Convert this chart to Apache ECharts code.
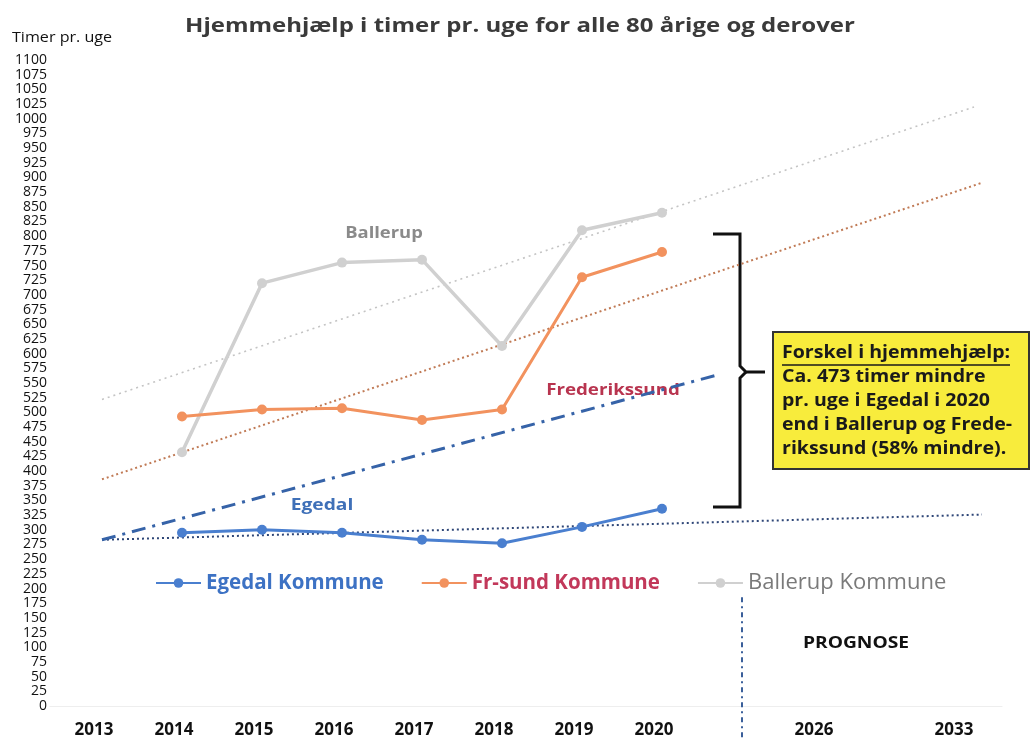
<!DOCTYPE html>
<html>
<head>
<meta charset="utf-8">
<script src="https://cdn.jsdelivr.net/npm/echarts@6/dist/echarts.min.js"></script>
<style>
  html, body { margin: 0; padding: 0; background: #fff; }
  #chart { width: 1032px; height: 741px; }
</style>
</head>
<body>
<div id="chart"></div>
<script>
// aar og maalte timer pr. uge
var years = [2014, 2015, 2016, 2017, 2018, 2019, 2020];
var egedal = [295, 300, 295, 283, 277, 305, 336];
var frsund = [493, 505, 507, 487, 505, 730, 773];
var ballerup = [432, 720, 755, 760, 613, 810, 840];

// tendenslinjer (start- og slutpunkt aflæst)
var ballerupTrend = [[2013, 522], [2023.9, 1020]];
var frsundTrend = [[2013, 386], [2024, 891]];
var egedalTrend = [[2013, 283], [2024, 326]];
var egedalArrow = [[2013, 283], [2020.7, 564]];
var prognoseLine = [[2021, 185], [2021, -60]];

// x-akse: aarstal og hvor de sidder paa aksen
var xTickLabels = ['2013', '2014', '2015', '2016', '2017', '2018', '2019', '2020', '2026', '2033'];
var xTickValues = [2013, 2014, 2015, 2016, 2017, 2018, 2019, 2020, 2022, 2023.75];

function pairs(vals) {
    return years.map(function (y, i) { return [y, vals[i]]; });
}

var chart = echarts.init(document.getElementById('chart'));
var font = '"Open Sans", "Noto Sans", sans-serif';

var option = {
    backgroundColor: '#fff',
    animation: false,
    textStyle: { fontFamily: font },
    grid: { left: 50, right: 30, top: 60, bottom: 35, containLabel: false },
    legend: {
        left: 150,
        top: 567,
        itemWidth: 45,
        itemHeight: 12,
        itemGap: 37,
        data: [
            { name: 'Egedal Kommune', textStyle: { color: '#3d72c4', fontWeight: 'bold', fontSize: 20.5 } },
            { name: 'Fr-sund Kommune', textStyle: { color: '#c2385a', fontWeight: 'bold', fontSize: 20.5 } },
            { name: 'Ballerup Kommune', textStyle: { color: '#7a7a7a', fontWeight: 'normal', fontSize: 22 } }
        ],
        textStyle: { fontSize: 20, fontFamily: font }
    },
    xAxis: {
        type: 'value',
        min: 2012.35,
        max: 2024.25,
        axisLine: { show: true, lineStyle: { color: '#eeeeee', width: 1 } },
        axisTick: { show: false },
        splitLine: { show: false },
        axisLabel: {
            customValues: xTickValues,
            margin: 16,
            padding: [0, 16, 0, 0],
            fontSize: 17,
            fontWeight: 'bold',
            color: '#111',
            formatter: function (v) {
                var i = xTickValues.indexOf(v);
                return i >= 0 ? xTickLabels[i] : '';
            }
        }
    },
    yAxis: {
        type: 'value',
        min: 0,
        max: 1100,
        interval: 25,
        axisLine: { show: false },
        axisTick: { show: false },
        splitLine: { show: false },
        axisLabel: {
            fontSize: 14, color: '#111', margin: 3,
            formatter: function (v) { return String(v); }
        }
    },
    series: [
        {
            name: 'Ballerup trend', type: 'line', data: ballerupTrend, symbol: 'none', silent: true,
            lineStyle: { color: '#c4c4c4', width: 1.6, type: [2, 4] }, z: 1
        },
        {
            name: 'Fr-sund trend', type: 'line', data: frsundTrend, symbol: 'none', silent: true,
            lineStyle: { color: '#c07a55', width: 2, type: [2, 3] }, z: 1
        },
        {
            name: 'Egedal trend', type: 'line', data: egedalTrend, symbol: 'none', silent: true,
            lineStyle: { color: '#2e4677', width: 2, type: [2, 3] }, z: 1
        },
        {
            name: 'Egedal pil', type: 'line', data: egedalArrow, symbol: 'none', silent: true,
            lineStyle: { color: '#3663a8', width: 3, type: [14, 7, 3, 7] }, z: 1
        },
        {
            name: 'Prognose', type: 'line', data: prognoseLine, symbol: 'none', silent: true, clip: false,
            lineStyle: { color: '#3a5f9a', width: 2, type: [5, 4, 2, 4] }, z: 1
        },
        {
            name: 'Ballerup Kommune', type: 'line', data: pairs(ballerup),
            symbol: 'circle', symbolSize: 10,
            itemStyle: { color: '#d0d0d0' },
            lineStyle: { color: '#d0d0d0', width: 3.5 }, z: 3
        },
        {
            name: 'Fr-sund Kommune', type: 'line', data: pairs(frsund),
            symbol: 'circle', symbolSize: 10,
            itemStyle: { color: '#f2925e' },
            lineStyle: { color: '#f2925e', width: 3 }, z: 4
        },
        {
            name: 'Egedal Kommune', type: 'line', data: pairs(egedal),
            symbol: 'circle', symbolSize: 10,
            itemStyle: { color: '#4a7fcf' },
            lineStyle: { color: '#4a7fcf', width: 3 }, z: 5
        }
    ],
    graphic: [
        // overskrift
        { type: 'text', x: 520, y: 26, scaleX: 1.2, style: { text: 'Hjemmehjælp i timer pr. uge for alle 80 årige og derover', fontSize: 20, fontWeight: 'bold', fill: '#3a3a3a', align: 'center', verticalAlign: 'middle', fontFamily: font } },
        { type: 'text', x: 12, y: 31, scaleX: 1.15, style: { text: 'Timer pr. uge', fontSize: 14, fill: '#111', fontFamily: font } },
        // navne ved kurverne
        { type: 'text', x: 384, y: 233, scaleX: 1.15, style: { text: 'Ballerup', fontSize: 16, fontWeight: 'bold', fill: '#8a8a8a', align: 'center', verticalAlign: 'middle', fontFamily: font } },
        { type: 'text', x: 613, y: 390, scaleX: 1.17, style: { text: 'Frederikssund', fontSize: 16, fontWeight: 'bold', fill: '#b8344f', align: 'center', verticalAlign: 'middle', fontFamily: font } },
        { type: 'text', x: 322, y: 505, scaleX: 1.2, style: { text: 'Egedal', fontSize: 16, fontWeight: 'bold', fill: '#3f70b8', align: 'center', verticalAlign: 'middle', fontFamily: font } },
        { type: 'text', x: 856, y: 643, scaleX: 1.2, style: { text: 'PROGNOSE', fontSize: 16, fontWeight: 'bold', fill: '#111', align: 'center', verticalAlign: 'middle', fontFamily: font } },
        // klamme
        {
            type: 'polyline',
            shape: { points: [[713, 234], [740, 234], [740, 366], [746, 372], [765, 372]] },
            style: { fill: null, stroke: '#111', lineWidth: 3 }
        },
        {
            type: 'polyline',
            shape: { points: [[746, 372], [740, 378], [740, 507], [713, 507]] },
            style: { fill: null, stroke: '#111', lineWidth: 3 }
        },
        // gul boks
        {
            type: 'rect',
            shape: { x: 773, y: 332, width: 256, height: 137 },
            style: { fill: '#f8ec3c', stroke: '#333', lineWidth: 2 }
        },
        {
            type: 'text', x: 782, y: 341, scaleX: 1.15,
            style: {
                text: 'Forskel i hjemmehjælp:\nCa. 473 timer mindre\npr. uge i Egedal i 2020\nend i Ballerup og Frede-\nrikssund (58% mindre).',
                fontSize: 17, fontWeight: 'bold', fill: '#1a1a1a', lineHeight: 24, fontFamily: font
            }
        },
        {
            type: 'line',
            shape: { x1: 782, y1: 365, x2: 1010, y2: 365 },
            style: { stroke: '#1a1a1a', lineWidth: 1.5 }
        }
    ]
};

chart.setOption(option);
</script>
</body>
</html>
